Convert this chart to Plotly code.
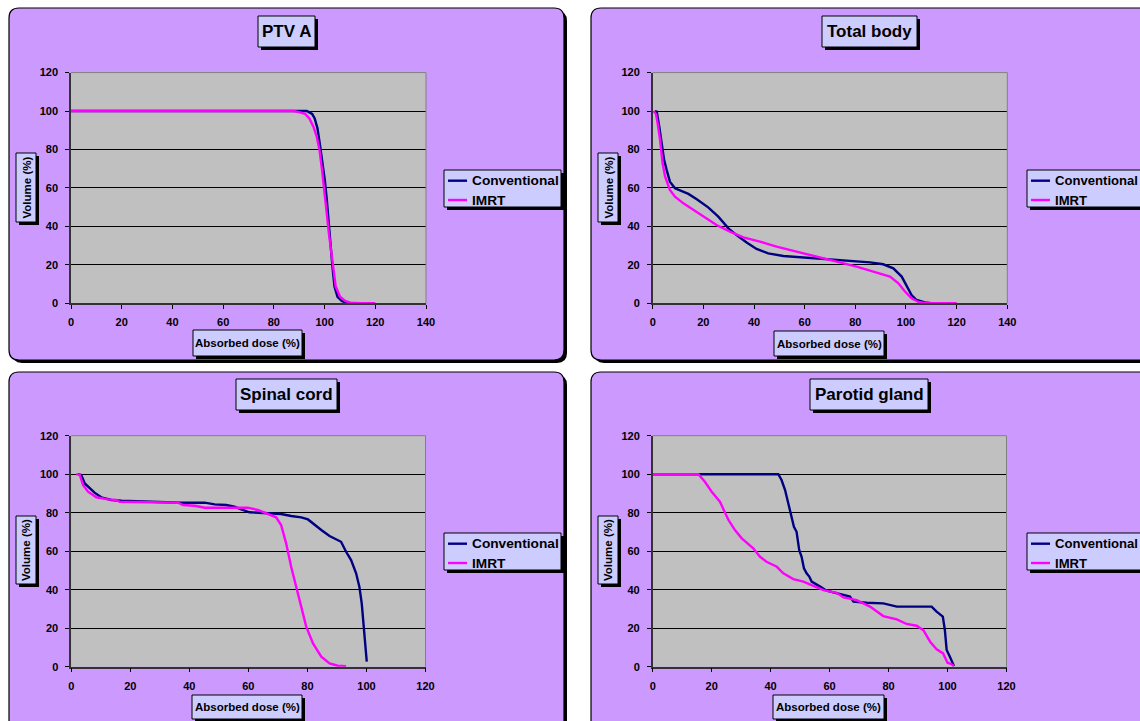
import plotly.graph_objects as go

# ---------------- data ----------------
series_names = ["Conventional", "IMRT"]
panel_titles = ["PTV A", "Total body", "Spinal cord", "Parotid gland"]
x_axis_title = "Absorbed dose (%)"
y_axis_title = "Volume (%)"
x_max = [140, 140, 120, 120]
y_ticks = [0, 20, 40, 60, 80, 100, 120]

ptv_conv_dose = [0, 93.0, 94.0, 95.1, 96.1, 97.2, 98.2, 99.3, 100.1, 100.9, 101.9, 103.1, 103.9, 105.1, 106.8, 108.7, 112.7]
ptv_conv_vol = [100, 100, 99.3, 98.5, 96.2, 91.0, 82.3, 72.8, 64.1, 53.7, 36.4, 19.1, 8.7, 3.4, 1.2, 0.2, 0]
ptv_imrt_dose = [0, 87.7, 90.3, 92.3, 94.0, 95.6, 96.9, 98.0, 99.0, 99.8, 100.3, 101.7, 103.2, 104.4, 106.1, 108.1, 110.1, 114.0, 120]
ptv_imrt_vol = [100, 100, 99.3, 98.5, 96.2, 91.9, 86.7, 79.7, 69.3, 60.7, 53.7, 36.4, 19.1, 8.7, 3.4, 1.2, 0.3, 0, 0]

body_conv_dose = [0.9, 1.6, 2.6, 3.5, 4.5, 5.5, 6.8, 8.8, 10.8, 14.1, 17.4, 21.9, 25.9, 29.9, 33.1, 37.1, 41.0, 45.6, 51.6, 59.5, 67.4, 77.9, 85.8, 91.0, 95.0, 98.3, 100.3, 102.2, 104.2, 107.5, 110.0]
body_conv_vol = [100, 99.7, 91.9, 83.2, 74.6, 69.4, 63.3, 59.8, 58.6, 56.9, 54.1, 49.9, 45.1, 39.0, 35.5, 31.6, 28.3, 26.0, 24.6, 23.8, 22.9, 22.2, 21.3, 20.3, 18.2, 13.9, 8.7, 4.3, 1.7, 0.5, 0]
body_imrt_dose = [0.3, 1.3, 1.9, 2.9, 3.9, 4.9, 6.8, 8.8, 12.1, 16.0, 21.3, 25.2, 30.5, 35.8, 42.3, 48.9, 56.8, 64.7, 72.6, 80.5, 88.4, 93.7, 97.0, 99.6, 102.2, 104.9, 108.1, 120]
body_imrt_vol = [100, 98.5, 94.0, 85.0, 72.8, 65.9, 59.0, 55.5, 52.0, 48.5, 44.2, 40.7, 37.3, 34.3, 32.1, 29.5, 26.9, 24.3, 21.5, 19.1, 16.0, 13.9, 10.4, 6.1, 2.6, 0.7, 0, 0]

cord_conv_dose = [2.3, 3.4, 4.6, 5.7, 7.9, 10.2, 13.6, 17.0, 27.1, 37.3, 45.2, 48.6, 52.5, 55.3, 57.6, 60.4, 66.6, 71.1, 74.5, 77.9, 80.2, 82.4, 84.7, 87.5, 89.8, 91.4, 93.1, 94.8, 96.5, 97.6, 98.4, 99.1, 99.7, 100.1]
cord_conv_vol = [100, 99.6, 95.2, 93.5, 90.4, 88.0, 86.6, 86.2, 85.7, 85.2, 85.2, 84.3, 84.0, 83.1, 81.7, 80.2, 79.7, 79.3, 78.3, 77.6, 76.5, 73.6, 71.0, 67.9, 66.1, 64.9, 59.7, 55.4, 48.5, 41.6, 32.9, 20.8, 10.4, 2.6]
cord_imrt_dose = [1.7, 2.9, 4.0, 5.7, 8.5, 12.5, 15.3, 16.4, 27.1, 36.2, 37.9, 41.8, 45.2, 59.8, 63.2, 66.6, 69.4, 71.1, 72.8, 74.5, 76.2, 77.9, 79.6, 81.9, 84.7, 87.5, 90.3, 93.1]
cord_imrt_vol = [100, 99.6, 94.4, 90.9, 88.0, 86.9, 86.6, 85.7, 85.4, 85.2, 84.0, 83.6, 82.6, 82.6, 81.4, 79.1, 77.6, 73.6, 64.1, 51.9, 41.6, 31.2, 20.8, 12.1, 5.2, 1.7, 0.5, 0.3]

parotid_conv_dose = [0, 42.6, 43.7, 44.9, 46.0, 47.1, 47.9, 48.8, 49.7, 50.5, 51.3, 52.2, 53.1, 53.9, 55.0, 56.8, 59.0, 62.4, 66.9, 68.1, 72.6, 78.2, 82.8, 88.4, 94.6, 96.3, 98.4, 99.1, 99.7, 100.8, 102.2]
parotid_conv_vol = [100, 100, 97.0, 91.8, 84.8, 77.1, 72.7, 70.1, 60.6, 57.1, 51.1, 48.5, 46.8, 44.2, 43.3, 41.6, 39.5, 38.1, 36.4, 33.8, 33.2, 32.9, 31.2, 31.2, 31.2, 28.6, 26.0, 19.0, 8.7, 5.2, 0.3]
parotid_imrt_dose = [0, 15.5, 17.7, 20.0, 22.8, 25.7, 27.9, 30.2, 34.1, 36.4, 38.6, 42.1, 44.3, 47.7, 51.1, 54.5, 57.9, 62.4, 64.7, 69.2, 73.7, 78.2, 82.8, 86.1, 89.5, 91.8, 94.1, 96.3, 98.5, 100.0, 101.3, 102.2]
parotid_imrt_vol = [100, 100, 96.1, 90.9, 85.7, 76.2, 71.0, 66.7, 61.5, 57.1, 54.5, 51.9, 48.5, 45.5, 44.2, 41.9, 39.8, 38.4, 36.0, 34.6, 31.2, 26.3, 24.6, 22.2, 21.3, 19.0, 13.0, 9.0, 6.9, 2.1, 1.4, 0.3]

conv_series = [(ptv_conv_dose, ptv_conv_vol), (body_conv_dose, body_conv_vol),
               (cord_conv_dose, cord_conv_vol), (parotid_conv_dose, parotid_conv_vol)]
imrt_series = [(ptv_imrt_dose, ptv_imrt_vol), (body_imrt_dose, body_imrt_vol),
               (cord_imrt_dose, cord_imrt_vol), (parotid_imrt_dose, parotid_imrt_vol)]

# ---------------- styling / geometry (pixels) ----------------
W, H = 1140, 721
FONT = "Liberation Sans, Arial, sans-serif"
C_PANEL = "#CC99FF"
C_BOX = "#CCCCFF"
C_PLOT = "#C0C0C0"
C_CONV = "#000080"
C_IMRT = "#FF00FF"
SH = 3  # shadow offset
R = 10  # corner radius

geom = [
    dict(box=(9, 8, 564, 360), tbox=(258, 16, 315, 47), lbox=(444, 170, 561, 207), lfs=13.7,
         ybox=(16, 153, 36, 222), xbox=(193, 330, 302, 356), xd=(71, 426), yd=(72.6, 303.3)),
    dict(box=(591, 8, 1146, 360), tbox=(822, 16, 917, 47), lbox=(1027, 170, 1144, 207), lfs=13.1,
         ybox=(598, 153, 618, 222), xbox=(774, 331, 884, 356), xd=(652.7, 1007.3), yd=(72.6, 303.3)),
    dict(box=(9, 372, 564, 724), tbox=(236, 379, 337, 410), lbox=(444, 533, 561, 570), lfs=13.7,
         ybox=(16, 516, 36, 584), xbox=(192, 695, 302, 719), xd=(71.2, 425.5), yd=(435.7, 666.7)),
    dict(box=(591, 372, 1146, 724), tbox=(810, 379, 928, 410), lbox=(1027, 533, 1144, 570), lfs=13.1,
         ybox=(598, 516, 618, 584), xbox=(773, 695, 884, 719), xd=(652.7, 1006.5), yd=(435.7, 666.7)),
]


def X(x):
    return x / W


def Y(y):
    return 1 - y / H


def P(x, y):
    return f"{X(x):.6f},{Y(y):.6f}"


def panel_fill_path(x0, y0, x1, y1):
    cr, cb = x1 > W, y1 > H
    x1c, y1c = min(x1, W), min(y1, H)
    p = f"M {P(x0 + R, y0)} "
    if cr:
        p += f"L {P(x1c, y0)} "
    else:
        p += f"L {P(x1 - R, y0)} Q {P(x1, y0)} {P(x1, y0 + R)} "
    if cr or cb:
        p += f"L {P(x1c, y1c)} "
    else:
        p += f"L {P(x1, y1 - R)} Q {P(x1, y1)} {P(x1 - R, y1)} "
    if cb:
        p += f"L {P(x0, y1c)} "
    else:
        p += f"L {P(x0 + R, y1)} Q {P(x0, y1)} {P(x0, y1 - R)} "
    p += f"L {P(x0, y0 + R)} Q {P(x0, y0)} {P(x0 + R, y0)} Z"
    return p


def panel_border_path(x0, y0, x1, y1):
    cr, cb = x1 > W, y1 > H
    if not cr and not cb:
        return panel_fill_path(x0, y0, x1, y1)
    if cr and not cb:
        return (f"M {P(W, y0)} L {P(x0 + R, y0)} Q {P(x0, y0)} {P(x0, y0 + R)} "
                f"L {P(x0, y1 - R)} Q {P(x0, y1)} {P(x0 + R, y1)} L {P(W, y1)}")
    if cb and not cr:
        return (f"M {P(x0, H)} L {P(x0, y0 + R)} Q {P(x0, y0)} {P(x0 + R, y0)} "
                f"L {P(x1 - R, y0)} Q {P(x1, y0)} {P(x1, y0 + R)} L {P(x1, H)}")
    return f"M {P(x0, H)} L {P(x0, y0 + R)} Q {P(x0, y0)} {P(x0 + R, y0)} L {P(W, y0)}"


def fill_shape(path, color):
    return dict(type="path", xref="paper", yref="paper", path=path, fillcolor=color,
                line=dict(width=0), layer="below")


def line_seg(xa, ya, xb, yb, color, width, layer="above"):
    return dict(type="line", xref="paper", yref="paper", x0=X(xa), x1=X(xb), y0=Y(ya), y1=Y(yb),
                line=dict(color=color, width=width), layer=layer)


def rect(x0, y0, x1, y1, fill, line_color=None, lw=0, layer="above"):
    return dict(type="rect", xref="paper", yref="paper", x0=X(x0), x1=X(min(x1, W)), y0=Y(min(y1, H)), y1=Y(y0),
                fillcolor=fill, line=dict(color=line_color or fill, width=lw), layer=layer)


def boxed(b):
    x0, y0, x1, y1 = b
    out = [rect(x0 + SH, y0 + SH, x1 + SH, y1 + SH, "black")]
    if x1 > W:
        out.append(rect(x0, y0, W, y1, C_BOX))
        out.append(line_seg(x0, y0, W, y0, "black", 1))
        out.append(line_seg(x0, y0, x0, y1, "black", 1))
        out.append(line_seg(x0, y1, W, y1, "black", 1))
    else:
        out.append(rect(x0, y0, x1, y1, C_BOX, "black", 1))
    return out


fig = go.Figure()
shapes = []
annotations = []

for i, g in enumerate(geom):
    n = "" if i == 0 else str(i + 1)
    xa, ya = "x" + n, "y" + n
    x0, y0, x1, y1 = g["box"]
    # panel shadow, fill and border
    shapes.append(fill_shape(panel_fill_path(x0 + SH, y0 + SH, x1 + SH, y1 + SH), "black"))
    shapes.append(fill_shape(panel_fill_path(x0, y0, x1, y1), C_PANEL))
    shapes.append(dict(type="path", xref="paper", yref="paper", path=panel_border_path(x0, y0, x1, y1),
                       fillcolor="rgba(0,0,0,0)", line=dict(color="black", width=1.2), layer="below"))
    # plot area background
    shapes.append(rect(g["xd"][0], g["yd"][0], g["xd"][1], g["yd"][1], C_PLOT, layer="below"))
    # plot area top / right border
    shapes.append(line_seg(g["xd"][0], g["yd"][0], g["xd"][1], g["yd"][0], "#808080", 1))
    shapes.append(line_seg(g["xd"][1], g["yd"][0], g["xd"][1], g["yd"][1], "#808080", 1))

    # traces
    for (dx, vy), name, col in ((conv_series[i], series_names[0], C_CONV), (imrt_series[i], series_names[1], C_IMRT)):
        fig.add_trace(go.Scatter(x=dx, y=vy, mode="lines", name=name, xaxis=xa, yaxis=ya,
                                 line=dict(color=col, width=2.4), showlegend=False, hoverinfo="skip"))

    axis_common = dict(showline=True, linecolor="#333333", linewidth=1.5, ticks="outside", ticklen=4,
                       tickwidth=1, tickcolor="black", zeroline=False, fixedrange=True, automargin=False,
                       tickfont=dict(family=FONT, size=11, color="black", weight="bold"))
    fig.layout["xaxis" + n] = dict(domain=[X(g["xd"][0]), X(g["xd"][1])], anchor=ya, range=[0, x_max[i]],
                                   tickmode="array", tickvals=list(range(0, x_max[i] + 1, 20)),
                                   showgrid=False, ticklabelstandoff=4, **axis_common)
    fig.layout["yaxis" + n] = dict(domain=[Y(g["yd"][1]), Y(g["yd"][0])], anchor=xa, range=[0, 120],
                                   tickmode="array", tickvals=y_ticks, showgrid=True, gridcolor="black",
                                   gridwidth=1, ticklabelstandoff=5, **axis_common)

    # title box
    shapes += boxed(g["tbox"])
    tx0, ty0, tx1, ty1 = g["tbox"]
    annotations.append(dict(xref="paper", yref="paper", x=X((tx0 + tx1) / 2), y=Y((ty0 + ty1) / 2),
                            text=panel_titles[i], showarrow=False, xanchor="center", yanchor="middle",
                            font=dict(family=FONT, size=17, color="black", weight="bold")))
    # axis title boxes
    shapes += boxed(g["xbox"])
    bx0, by0, bx1, by1 = g["xbox"]
    annotations.append(dict(xref="paper", yref="paper", x=X((bx0 + bx1) / 2), y=Y((by0 + by1) / 2),
                            text=x_axis_title, showarrow=False, xanchor="center", yanchor="middle",
                            font=dict(family=FONT, size=11.5, color="black", weight="bold")))
    shapes += boxed(g["ybox"])
    bx0, by0, bx1, by1 = g["ybox"]
    annotations.append(dict(xref="paper", yref="paper", x=X((bx0 + bx1) / 2), y=Y((by0 + by1) / 2),
                            text=y_axis_title, showarrow=False, xanchor="center", yanchor="middle",
                            textangle=-90, font=dict(family=FONT, size=11.5, color="black", weight="bold")))
    # legend box (drawn by hand, Excel style)
    shapes += boxed(g["lbox"])
    lx0, ly0, lx1, ly1 = g["lbox"]
    for k, (name, col) in enumerate(zip(series_names, (C_CONV, C_IMRT))):
        yy = ly0 + 10.7 + k * 19.3
        shapes.append(line_seg(lx0 + 4, yy, lx0 + 23, yy, col, 2.4))
        annotations.append(dict(xref="paper", yref="paper", x=X(lx0 + 25.5), y=Y(yy), text=name,
                                showarrow=False, xanchor="left", yanchor="middle",
                                font=dict(family=FONT, size=g["lfs"], color="black", weight="bold")))

fig.update_layout(width=W, height=H, margin=dict(l=0, r=0, t=0, b=0, pad=0, autoexpand=False),
                  paper_bgcolor="white", plot_bgcolor="rgba(0,0,0,0)",
                  shapes=shapes, annotations=annotations, showlegend=False,
                  font=dict(family=FONT, color="black"))

post = (
    "document.documentElement.style.margin='0';document.documentElement.style.padding='0';"
    "document.documentElement.style.overflow='hidden';"
    "document.body.style.margin='0';document.body.style.padding='0';document.body.style.overflow='hidden';"
    "var gd=document.getElementsByClassName('plotly-graph-div');"
    "for(var i=0;i<gd.length;i++){gd[i].style.overflow='hidden';}"
    "var sc=document.getElementsByClassName('svg-container');"
    "for(var j=0;j<sc.length;j++){sc[j].style.overflow='hidden';}"
)
fig.write_html("out.html", config={"displayModeBar": False}, post_script=post)
